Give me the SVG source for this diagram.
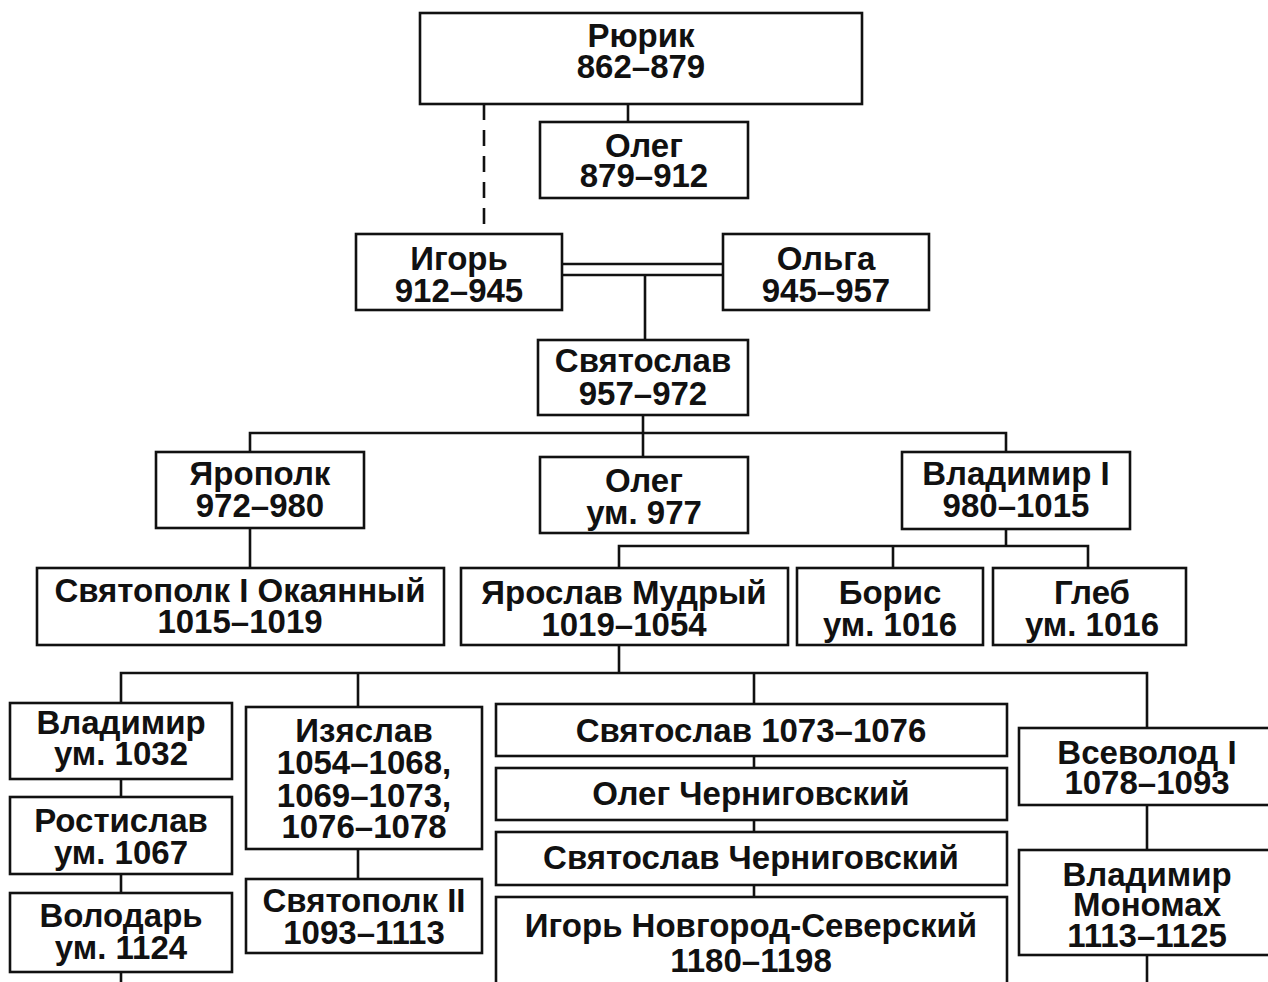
<svg xmlns="http://www.w3.org/2000/svg" width="1268" height="982" viewBox="0 0 1268 982">
<style>
.b{fill:#fff;stroke:#111;stroke-width:2.6}
.t{font-family:"Liberation Sans",Arial,sans-serif;font-weight:bold;font-size:33px;fill:#111;text-anchor:middle}
.c{fill:none;stroke:#111;stroke-width:2.6}
</style>
<rect width="1268" height="982" fill="#fff"/>
<g id="connectors">
<line class="c" x1="628" y1="104" x2="628" y2="122"/>
<line class="c" x1="484" y1="104" x2="484" y2="234" stroke-dasharray="16,10"/>
<line class="c" x1="562" y1="264" x2="723" y2="264"/>
<line class="c" x1="562" y1="275" x2="723" y2="275"/>
<line class="c" x1="645" y1="275" x2="645" y2="340"/>
<polyline class="c" points="250,452 250,433 1006,433 1006,452"/>
<line class="c" x1="643" y1="415" x2="643" y2="457"/>
<line class="c" x1="250" y1="528" x2="250" y2="568"/>
<polyline class="c" points="619,568 619,546 1088,546 1088,568"/>
<line class="c" x1="1006" y1="529" x2="1006" y2="546"/>
<line class="c" x1="893" y1="546" x2="893" y2="568"/>
<polyline class="c" points="121,703 121,673 1147,673 1147,728"/>
<line class="c" x1="619" y1="645" x2="619" y2="673"/>
<line class="c" x1="358" y1="673" x2="358" y2="707"/>
<line class="c" x1="754" y1="673" x2="754" y2="704"/>
<line class="c" x1="121" y1="779" x2="121" y2="797"/>
<line class="c" x1="121" y1="874" x2="121" y2="893"/>
<line class="c" x1="121" y1="972" x2="121" y2="982"/>
<line class="c" x1="358" y1="849" x2="358" y2="879"/>
<line class="c" x1="754" y1="756" x2="754" y2="768"/>
<line class="c" x1="754" y1="820" x2="754" y2="832"/>
<line class="c" x1="754" y1="885" x2="754" y2="897"/>
<line class="c" x1="1147" y1="805" x2="1147" y2="850"/>
<line class="c" x1="1147" y1="955" x2="1147" y2="982"/>
</g>
<g id="rurik"><rect class="b" x="420" y="13" width="442" height="91"/><text class="t" x="641" y="47">Рюрик</text><text class="t" x="641" y="78">862–879</text></g>
<g id="oleg1"><rect class="b" x="540" y="122" width="208" height="76"/><text class="t" x="644" y="157">Олег</text><text class="t" x="644" y="187">879–912</text></g>
<g id="igor"><rect class="b" x="356" y="234" width="206" height="76"/><text class="t" x="459" y="270">Игорь</text><text class="t" x="459" y="302">912–945</text></g>
<g id="olga"><rect class="b" x="723" y="234" width="206" height="76"/><text class="t" x="826" y="270">Ольга</text><text class="t" x="826" y="302">945–957</text></g>
<g id="svyatoslav"><rect class="b" x="538" y="340" width="210" height="75"/><text class="t" x="643" y="372">Святослав</text><text class="t" x="643" y="405">957–972</text></g>
<g id="yaropolk"><rect class="b" x="156" y="452" width="208" height="76"/><text class="t" x="260" y="485">Ярополк</text><text class="t" x="260" y="517">972–980</text></g>
<g id="oleg2"><rect class="b" x="540" y="457" width="208" height="76"/><text class="t" x="644" y="492">Олег</text><text class="t" x="644" y="524">ум. 977</text></g>
<g id="vladimir1"><rect class="b" x="902" y="452" width="228" height="77"/><text class="t" x="1016" y="485">Владимир I</text><text class="t" x="1016" y="517">980–1015</text></g>
<g id="svyatopolk1"><rect class="b" x="37" y="568" width="407" height="77"/><text class="t" x="240" y="602">Святополк I Окаянный</text><text class="t" x="240" y="633">1015–1019</text></g>
<g id="yaroslav"><rect class="b" x="461" y="568" width="327" height="77"/><text class="t" x="624" y="604">Ярослав Мудрый</text><text class="t" x="624" y="636">1019–1054</text></g>
<g id="boris"><rect class="b" x="797" y="568" width="186" height="77"/><text class="t" x="890" y="604">Борис</text><text class="t" x="890" y="636">ум. 1016</text></g>
<g id="gleb"><rect class="b" x="993" y="568" width="193" height="77"/><text class="t" x="1092" y="604">Глеб</text><text class="t" x="1092" y="636">ум. 1016</text></g>
<g id="vladimir2"><rect class="b" x="10" y="703" width="222" height="76"/><text class="t" x="121" y="734">Владимир</text><text class="t" x="121" y="765">ум. 1032</text></g>
<g id="rostislav"><rect class="b" x="10" y="797" width="222" height="77"/><text class="t" x="121" y="832">Ростислав</text><text class="t" x="121" y="864">ум. 1067</text></g>
<g id="volodar"><rect class="b" x="10" y="893" width="222" height="79"/><text class="t" x="121" y="927">Володарь</text><text class="t" x="121" y="959">ум. 1124</text></g>
<g id="izyaslav"><rect class="b" x="246" y="707" width="236" height="142"/><text class="t" x="364" y="742">Изяслав</text><text class="t" x="364" y="774">1054–1068,</text><text class="t" x="364" y="807">1069–1073,</text><text class="t" x="364" y="838">1076–1078</text></g>
<g id="svyatopolk2"><rect class="b" x="246" y="879" width="236" height="74"/><text class="t" x="364" y="912">Святополк II</text><text class="t" x="364" y="944">1093–1113</text></g>
<g id="svyatoslav2"><rect class="b" x="496" y="704" width="511" height="52"/><text class="t" x="751" y="742">Святослав 1073–1076</text></g>
<g id="olegch"><rect class="b" x="496" y="768" width="511" height="52"/><text class="t" x="751" y="805">Олег Черниговский</text></g>
<g id="svyatoslavch"><rect class="b" x="496" y="832" width="511" height="53"/><text class="t" x="751" y="869">Святослав Черниговский</text></g>
<g id="igorns"><rect class="b" x="496" y="897" width="511" height="95"/><text class="t" x="751" y="937">Игорь Новгород-Северский</text><text class="t" x="751" y="972">1180–1198</text></g>
<g id="vsevolod"><rect class="b" x="1019" y="728" width="260" height="77"/><text class="t" x="1147" y="764">Всеволод I</text><text class="t" x="1147" y="794">1078–1093</text></g>
<g id="monomakh"><rect class="b" x="1019" y="850" width="260" height="105"/><text class="t" x="1147" y="886">Владимир</text><text class="t" x="1147" y="916">Мономах</text><text class="t" x="1147" y="947">1113–1125</text></g>
</svg>
